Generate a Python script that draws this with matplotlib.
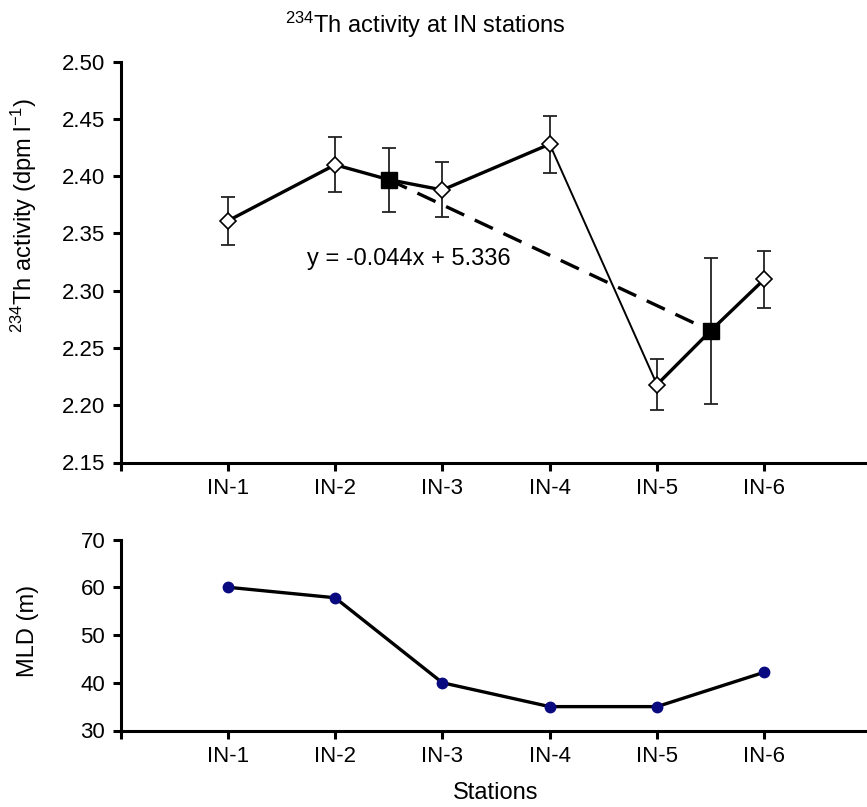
import numpy as np
import matplotlib
matplotlib.use("Agg")
import matplotlib.pyplot as plt

plt.rcParams['font.family'] = ['Liberation Sans', 'DejaVu Sans']
plt.rcParams['mathtext.fontset'] = 'custom'
plt.rcParams['mathtext.rm'] = 'Liberation Sans'
plt.rcParams['mathtext.it'] = 'Liberation Sans'
plt.rcParams['mathtext.default'] = 'regular'

stations = ["IN-1", "IN-2", "IN-3", "IN-4", "IN-5", "IN-6"]
th_activity = [2.361, 2.410, 2.388, 2.428, 2.218, 2.310]
th_err = [0.021, 0.024, 0.024, 0.025, 0.022, 0.025]

# averages of station pairs (placed between stations)
avg_pos = [2.5, 5.5]
avg_activity = [2.397, 2.265]
avg_err = [0.028, 0.064]

mld = [60.0, 57.8, 40.0, 35.0, 35.0, 42.2]

x = np.arange(1, len(stations) + 1)

fig = plt.figure(figsize=(8.67, 8.07), dpi=100)
left = 120.5 / 867
right = 871.6 / 867
ax1 = fig.add_axes([left, 1 - 462.5 / 807, right - left, (462.5 - 61.7) / 807])
ax2 = fig.add_axes([left, 1 - 730.5 / 807, right - left, (730.5 - 539.5) / 807])

fs_tick = 16
fs_lab = 17

# --- top panel: 234Th activity ---
# solid connecting line (thin between IN-4 and IN-5)
seg1_x = [1, 2, avg_pos[0], 3, 4]
seg1_y = [th_activity[0], th_activity[1], avg_activity[0], th_activity[2], th_activity[3]]
ax1.plot(seg1_x, seg1_y, color="black", lw=2.4, zorder=2)
ax1.plot([4, 5], [th_activity[3], th_activity[4]], color="black", lw=1.4, zorder=2)
ax1.plot([5, avg_pos[1], 6], [th_activity[4], avg_activity[1], th_activity[5]],
         color="black", lw=2.4, zorder=2)

# dashed trend between averages
ax1.plot(avg_pos, avg_activity, color="black", lw=2.4, dashes=(6, 3.5), zorder=2)

ax1.errorbar(x, th_activity, yerr=th_err, fmt="none", ecolor="#222222",
             elinewidth=1.3, capsize=5, capthick=1.3, zorder=3)
ax1.errorbar(avg_pos, avg_activity, yerr=avg_err, fmt="none", ecolor="#222222",
             elinewidth=1.3, capsize=5, capthick=1.3, zorder=3)
ax1.plot(x, th_activity, linestyle="none", marker="D", markersize=8,
         markerfacecolor="white", markeredgecolor="black", markeredgewidth=1.2, zorder=4)
ax1.plot(avg_pos, avg_activity, linestyle="none", marker="s", markersize=11,
         color="black", zorder=4)

ax1.text(1.74, 2.328, "y = -0.044x + 5.336", fontsize=fs_lab, va="center", ha="left")

ax1.set_xlim(0, 7)
ax1.set_ylim(2.15, 2.50)
ax1.set_yticks(np.arange(2.15, 2.501, 0.05))
ax1.set_yticklabels([f"{v:.2f}" for v in np.arange(2.15, 2.501, 0.05)])
ax1.set_xticks(np.arange(0, 8))
ax1.set_xticklabels([""] + stations + [""])
ax1.set_ylabel("$^{234}$Th activity (dpm l$^{\\mathrm{-1}}$)".replace("\\mathrm{-1}", "-1"),
               fontsize=fs_lab)
ax1.yaxis.set_label_coords(-0.108, 0.6175)

# --- bottom panel: MLD ---
ax2.plot(x, mld, color="black", lw=2.4, marker="o", markersize=7.5,
         markerfacecolor="#0a0a80", markeredgecolor="#0a0a80")
ax2.set_xlim(0, 7)
ax2.set_ylim(30, 70)
ax2.set_yticks([30, 40, 50, 60, 70])
ax2.set_xticks(np.arange(0, 8))
ax2.set_xticklabels([""] + stations + [""])
ax2.set_ylabel("MLD (m)", fontsize=fs_lab)
ax2.yaxis.set_label_coords(-0.108, 0.52)
ax2.set_xlabel("Stations", fontsize=fs_lab, labelpad=11)

for ax in (ax1, ax2):
    ax.spines["top"].set_visible(False)
    ax.spines["right"].set_visible(False)
    ax.spines["left"].set_linewidth(2.2)
    ax.spines["bottom"].set_linewidth(2.2)
    ax.tick_params(axis="both", direction="out", length=6, width=2.2,
                   labelsize=fs_tick, pad=5)

fig.text(425 / 867, 1 - 25 / 807, "$^{234}$Th activity at IN stations",
         fontsize=fs_lab, ha="center", va="center")

fig.savefig("out.png", dpi=100)
